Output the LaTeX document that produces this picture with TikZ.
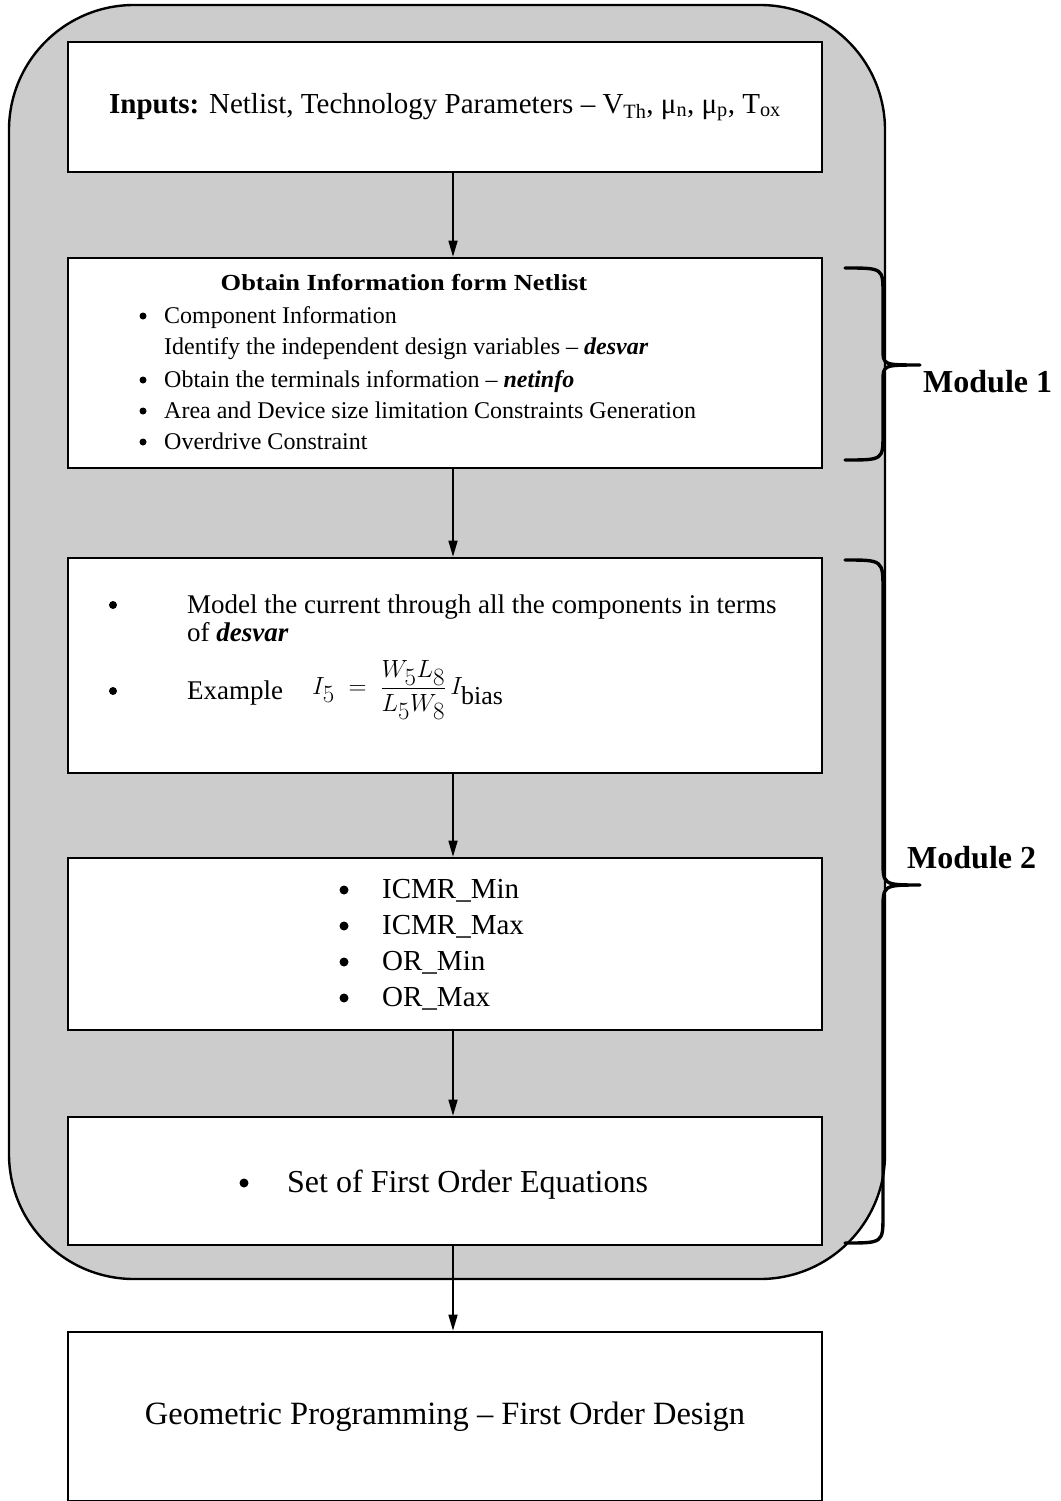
\documentclass[tikz,border=0pt]{standalone}
\usepackage{fontspec}
\setmainfont{Liberation Serif}
\newfontfamily\widefont[FakeStretch=1.15]{Liberation Serif}
\usetikzlibrary{arrows.meta}
\begin{document}
\begin{tikzpicture}[x=1pt,y=-1pt,
  box/.style={draw, line width=2.6pt, fill=white, minimum width=754pt, inner sep=0pt},
  flow/.style={-{Triangle[length=16pt,width=9pt]}, line width=1.6pt},
  bracestyle/.style={line width=3.4pt, line cap=round, line join=round},
  fs/.style={font=\fontsize{#1}{#1}\selectfont},
  txt/.style={anchor=base west, inner sep=0pt},
  dot/.style={circle, fill=black, inner sep=0pt, minimum size=#1}]
\useasboundingbox (0,0) rectangle (1060,1501);
% outer frame
\node[draw, line width=2.4pt, fill=gray!40, rounded corners=125pt,
      minimum width=876pt, minimum height=1274pt, inner sep=0pt] (frame) at (447,642) {};
% boxes
\node[box, minimum height=130pt, fs=29] (box1) at (445,107)
  {{\bfseries Inputs:} Netlist, Technology Parameters -- V\textsubscript{Th}, μ\textsubscript{n}, μ\textsubscript{p}, T\textsubscript{ox}};
\node[box, minimum height=210pt] (box2) at (445,363) {};
\node[box, minimum height=215pt] (box3) at (445,665.5) {};
\node[box, minimum height=172pt] (box4) at (445,944) {};
\node[box, minimum height=128pt] (box5) at (445,1181) {};
\node[box, minimum height=169pt, fs=32.5] (box6) at (445,1416.5)
  {Geometric Programming -- First Order Design};
% box 2 text
\node[anchor=base, inner sep=0pt, font=\widefont\bfseries\fontsize{23}{23}\selectfont] (t2) at (404,290) {Obtain Information form Netlist};
\node[dot=7pt] (b21) at (143,316) {};
\node[txt, fs=24] (l21) at (164,323) {Component Information};
\node[txt, fs=24] (l22) at (164,354) {Identify the independent design variables -- \textbf{\textit{desvar}}};
\node[dot=7pt] (b23) at (143,380) {};
\node[txt, fs=24] (l23) at (164,387) {Obtain the terminals information -- \textbf{\textit{netinfo}}};
\node[dot=7pt] (b24) at (143,411) {};
\node[txt, fs=24] (l24) at (164,418) {Area and Device size limitation Constraints Generation};
\node[dot=7pt] (b25) at (143,442) {};
\node[txt, fs=24] (l25) at (164,449) {Overdrive Constraint};
% box 3 text
\node[dot=8pt] (b31) at (113,605) {};
\node[txt, fs=27] (l31) at (187,613) {Model the current through all the components in terms};
\node[txt, fs=27] (l32) at (187,641) {of \textbf{\textit{desvar}}};
\node[dot=8pt] (b33) at (113,691) {};
\node[txt, fs=27] (l33) at (187,699) {Example};
\node[anchor=west, inner sep=0pt, fs=37] (eq) at (312,690)
  {$\displaystyle I_5 \;=\; \frac{W_5L_8}{L_5W_8}\,I_{\mathrm{bias}}$};
% box 4 text
\node[dot=9pt] (b41) at (344,890) {};
\node[txt, fs=29] (l41) at (382,898) {ICMR\_Min};
\node[dot=9pt] (b42) at (344,926) {};
\node[txt, fs=29] (l42) at (382,934) {ICMR\_Max};
\node[dot=9pt] (b43) at (344,962) {};
\node[txt, fs=29] (l43) at (382,970) {OR\_Min};
\node[dot=9pt] (b44) at (344,998) {};
\node[txt, fs=29] (l44) at (382,1006) {OR\_Max};
% box 5 text
\node[dot=9pt] (b51) at (244,1183) {};
\node[txt, fs=32] (l51) at (287,1192) {Set of First Order Equations};
% arrows
\draw[flow] ([xshift=8pt]box1.south) -- ([xshift=8pt]box2.north);
\draw[flow] ([xshift=8pt]box2.south) -- ([xshift=8pt]box3.north);
\draw[flow] ([xshift=8pt]box3.south) -- ([xshift=8pt]box4.north);
\draw[flow] ([xshift=8pt]box4.south) -- ([xshift=8pt]box5.north);
\draw[flow] ([xshift=8pt]box5.south) -- ([xshift=8pt]box6.north);
% braces
\draw[bracestyle] (845,268) .. controls (883,268) .. (883,294) -- (883,349)
   .. controls (883,365) .. (920,365) .. controls (883,365) .. (883,381) -- (883,434)
   .. controls (883,460) .. (845,460);
\draw[bracestyle] (845,560) .. controls (883,560) .. (883,590) -- (883,860)
   .. controls (883,885) .. (920,885) .. controls (883,885) .. (883,910) -- (883,1215)
   .. controls (883,1243) .. (845,1243);
\node[anchor=base west, inner sep=0pt, font=\bfseries\fontsize{32}{32}\selectfont] (m1) at (923,392) {Module 1};
\node[anchor=base west, inner sep=0pt, font=\bfseries\fontsize{32}{32}\selectfont] (m2) at (907,868) {Module 2};
\end{tikzpicture}
\end{document}
